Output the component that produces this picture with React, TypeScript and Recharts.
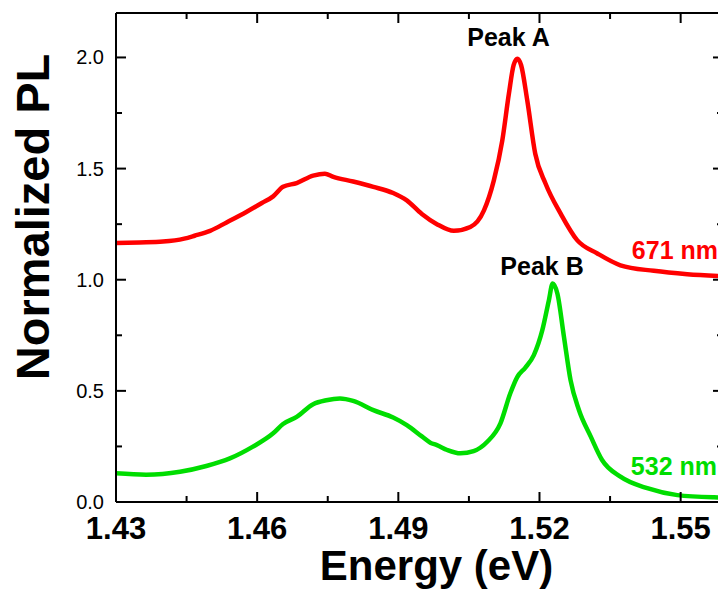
import React from 'react';
import { LineChart, Line, XAxis, YAxis } from 'recharts';

// ---- data ----
const energy671 = [
  1.43, 1.435, 1.44, 1.4445, 1.4467, 1.45, 1.4535, 1.4577, 1.461, 1.4634, 1.4655, 1.4684,
  1.4719, 1.4744, 1.4762, 1.4804, 1.4847, 1.4889, 1.4918, 1.495, 1.4982, 1.5018, 1.5053,
  1.5082, 1.5103, 1.5121, 1.5135, 1.5145, 1.5153, 1.5161, 1.5174, 1.5191, 1.5213, 1.5245,
  1.528, 1.5323, 1.5372, 1.5443, 1.5514, 1.559,
];
const pl671 = [
  1.165, 1.168, 1.172, 1.185, 1.198, 1.22, 1.258, 1.305, 1.345, 1.375, 1.418, 1.435,
  1.468, 1.477, 1.463, 1.442, 1.418, 1.39, 1.357, 1.296, 1.25, 1.22, 1.237,
  1.312, 1.447, 1.627, 1.837, 1.965, 1.994, 1.965, 1.807, 1.567, 1.432, 1.297,
  1.178, 1.118, 1.065, 1.04, 1.025, 1.016,
];
const energy532 = [
  1.43, 1.4364, 1.4436, 1.4492, 1.4542, 1.4591, 1.4634, 1.4655, 1.4684, 1.4719, 1.4747,
  1.4776, 1.4804, 1.4847, 1.4889, 1.4918, 1.495, 1.4968, 1.4982, 1.5004, 1.5032, 1.506,
  1.5089, 1.5117, 1.5138, 1.5153, 1.517, 1.5188, 1.5206, 1.522, 1.5228, 1.5238, 1.5252,
  1.5266, 1.5284, 1.5309, 1.5333, 1.5372, 1.5429, 1.5493, 1.5571, 1.559,
];
const pl532 = [
  0.129, 0.123, 0.136, 0.162, 0.196, 0.249, 0.309, 0.351, 0.383, 0.44, 0.458,
  0.466, 0.455, 0.413, 0.38, 0.346, 0.295, 0.267, 0.256, 0.234, 0.219, 0.229,
  0.271, 0.354, 0.489, 0.563, 0.605, 0.661, 0.773, 0.908, 0.983, 0.938, 0.743,
  0.548, 0.413, 0.294, 0.189, 0.114, 0.062, 0.031, 0.021, 0.02,
];

const xMajorTicks = [1.43, 1.46, 1.49, 1.52, 1.55];
const xMinorTicks = [1.445, 1.475, 1.505, 1.535];
const yMajorTicks = [0, 0.5, 1.0, 1.5, 2.0];
const yMinorTicks = [0.25, 0.75, 1.25, 1.75];
const xDomain = [1.43, 1.559];
const yDomain = [0, 2.2];

const xTitle = 'Energy (eV)';
const yTitle = 'Normalized PL';
const annotations = { peakA: 'Peak A', peakB: 'Peak B', red: '671 nm', green: '532 nm' };

const RED = '#ff0000';
const GREEN = '#00dd00';
const FONT = '"Liberation Sans", Arial, Helvetica, sans-serif';

const data671 = energy671.map((e, i) => ({ energy: e, pl: pl671[i] }));
const data532 = energy532.map((e, i) => ({ energy: e, pl: pl532[i] }));
const xTicksAll = [...xMajorTicks, ...xMinorTicks].sort((a, b) => a - b);
const yTicksAll = [...yMajorTicks, ...yMinorTicks].sort((a, b) => a - b);

const isIn = (v: number, arr: number[]) => arr.some((t) => Math.abs(t - v) < 1e-9);

const MAJOR = 10;
const MINOR = 6;
const TICK = '#000';

const BottomTick = (p: any) => {
  const { x, y, payload } = p;
  const major = isIn(payload.value, xMajorTicks);
  return (
    <g>
      <line x1={x} x2={x} y1={y} y2={y - (major ? MAJOR : MINOR)} stroke={TICK} strokeWidth={2} />
      {major && (
        <text x={x} y={y + 37} textAnchor="middle" fontFamily={FONT} fontWeight="bold" fontSize={31} fill="#000">
          {payload.value.toFixed(2)}
        </text>
      )}
    </g>
  );
};
const TopTick = (p: any) => {
  const { x, y, payload } = p;
  const major = isIn(payload.value, xMajorTicks);
  return <line x1={x} x2={x} y1={y} y2={y + (major ? MAJOR : MINOR)} stroke={TICK} strokeWidth={2} />;
};
const LeftTick = (p: any) => {
  const { x, y, payload } = p;
  const major = isIn(payload.value, yMajorTicks);
  return (
    <g>
      <line x1={x} x2={x + (major ? MAJOR : MINOR)} y1={y} y2={y} stroke={TICK} strokeWidth={2} />
      {major && (
        <text x={x - 12} y={y + 7} textAnchor="end" fontFamily={FONT} fontSize={20} fill="#000">
          {payload.value.toFixed(1)}
        </text>
      )}
    </g>
  );
};
const RightTick = (p: any) => {
  const { x, y, payload } = p;
  const major = isIn(payload.value, yMajorTicks);
  return <line x1={x} x2={x - (major ? MAJOR : MINOR)} y1={y} y2={y} stroke={TICK} strokeWidth={2} />;
};

const axisLine = { stroke: '#000', strokeWidth: 2 };
const W = 718;
const H = 594;

export default function App() {
  return (
    <div style={{ position: 'relative', width: W, height: H }}>
      <LineChart width={W} height={H} margin={{ top: 4, right: 2, bottom: 99, left: 0 }}>
        <XAxis
          xAxisId="bottom"
          type="number"
          dataKey="energy"
          domain={xDomain}
          ticks={xTicksAll}
          interval={0}
          allowDataOverflow
          height={1}
          tickSize={0}
          tickMargin={0}
          tickLine={false}
          axisLine={axisLine}
          tick={(p: any) => <BottomTick {...p} />}
        />
        <XAxis
          xAxisId="top"
          orientation="top"
          type="number"
          dataKey="energy"
          domain={xDomain}
          ticks={xTicksAll}
          interval={0}
          allowDataOverflow
          height={1}
          tickSize={0}
          tickMargin={0}
          tickLine={false}
          axisLine={axisLine}
          tick={(p: any) => <TopTick {...p} />}
        />
        <YAxis
          yAxisId="left"
          type="number"
          domain={yDomain}
          ticks={yTicksAll}
          interval={0}
          allowDataOverflow
          width={108}
          tickSize={0}
          tickMargin={0}
          tickLine={false}
          axisLine={axisLine}
          tick={(p: any) => <LeftTick {...p} />}
        />
        <YAxis
          yAxisId="right"
          orientation="right"
          type="number"
          domain={yDomain}
          ticks={yTicksAll}
          interval={0}
          allowDataOverflow
          width={1}
          tickSize={0}
          tickMargin={0}
          tickLine={false}
          axisLine={axisLine}
          tick={(p: any) => <RightTick {...p} />}
        />
        <Line
          data={data671}
          dataKey="pl"
          xAxisId="bottom"
          yAxisId="left"
          type="monotone"
          stroke={RED}
          strokeWidth={4.5}
          dot={false}
          isAnimationActive={false}
        />
        <Line
          data={data532}
          dataKey="pl"
          xAxisId="bottom"
          yAxisId="left"
          type="monotone"
          stroke={GREEN}
          strokeWidth={4.5}
          dot={false}
          isAnimationActive={false}
        />
      </LineChart>
      <svg
        width={W}
        height={H}
        style={{ position: 'absolute', left: 0, top: 0, pointerEvents: 'none' }}
      >
        <text x={428.5} y={572} textAnchor="middle" fontFamily={FONT} fontWeight="bold" fontSize={42} fill="#000">
          {xTitle}
        </text>
        <text
          x={41}
          y={209}
          transform="rotate(-90 41 209)"
          textAnchor="middle"
          fontFamily={FONT}
          fontWeight="bold"
          fontSize={47}
          fill="#000"
        >
          {yTitle}
        </text>
        <text x={500.5} y={38} textAnchor="middle" fontFamily={FONT} fontWeight="bold" fontSize={25} fill="#000">
          {annotations.peakA}
        </text>
        <text x={534} y={267} textAnchor="middle" fontFamily={FONT} fontWeight="bold" fontSize={25} fill="#000">
          {annotations.peakB}
        </text>
        <text x={710} y={251} textAnchor="end" fontFamily={FONT} fontWeight="bold" fontSize={25} fill={RED}>
          {annotations.red}
        </text>
        <text x={709} y={467} textAnchor="end" fontFamily={FONT} fontWeight="bold" fontSize={25} fill={GREEN}>
          {annotations.green}
        </text>
      </svg>
    </div>
  );
}
